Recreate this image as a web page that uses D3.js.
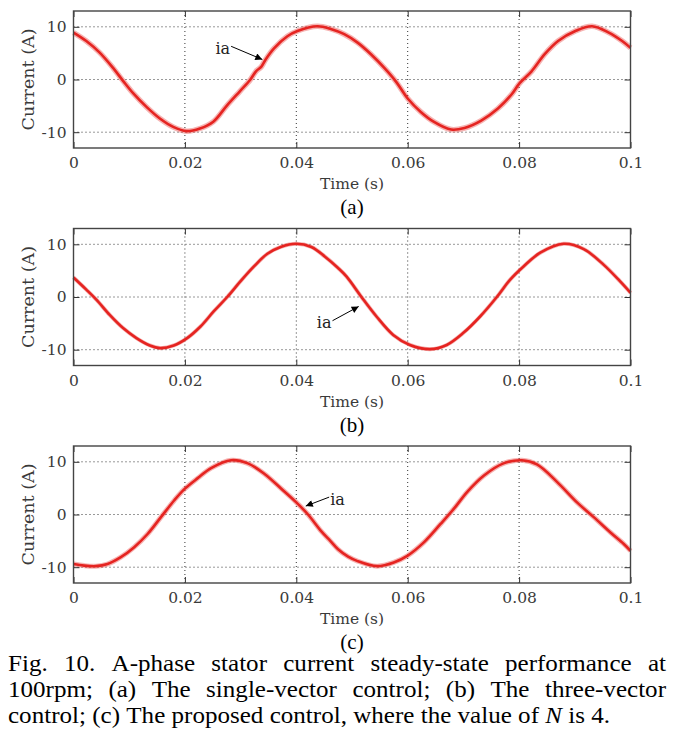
<!DOCTYPE html>
<html>
<head>
<meta charset="utf-8">
<script src="https://cdn.jsdelivr.net/npm/d3@7"></script>
<style>
  body { margin: 0; background: #fff; }
  svg { display: block; }
</style>
</head>
<body>
<svg id="fig" width="686" height="750"></svg>
<script>
// values (time in s, current in A)
const timeA = [0, 0.0023, 0.0047, 0.0071, 0.009, 0.0107, 0.0131, 0.0155, 0.0179, 0.0203, 0.0227, 0.0251,
  0.0275, 0.0299, 0.0317, 0.0328, 0.0337, 0.0345, 0.036, 0.0384, 0.0402, 0.0438, 0.0462, 0.0486, 0.051,
  0.0534, 0.0558, 0.0579, 0.06, 0.0624, 0.0648, 0.0678, 0.0702, 0.0732, 0.0762, 0.0786, 0.0801, 0.0822,
  0.0846, 0.087, 0.0901, 0.0931, 0.0961, 0.0985, 0.1];
const currentA = [8.9, 7.3, 5.1, 2.2, -0.4, -2.6, -5.2, -7.4, -9.0, -9.8, -9.3, -8.0,
  -5.0, -2.2, -0.1, 1.6, 2.4, 3.8, 5.9, 8.2, 9.2, 10.1, 9.6, 8.6, 7.0,
  4.8, 2.2, -0.4, -3.6, -6.2, -8.1, -9.5, -9.2, -7.8, -5.5, -2.9, -0.7, 1.5,
  4.8, 7.3, 9.2, 10.1, 8.9, 7.3, 6.0];

const timeB = [0, 0.0023, 0.0041, 0.0065, 0.0089, 0.0113, 0.0137, 0.0155, 0.018, 0.0204, 0.0228, 0.0252,
  0.0276, 0.03, 0.0324, 0.0348, 0.0372, 0.04, 0.0427, 0.0451, 0.0475, 0.049, 0.0517, 0.0544, 0.0574,
  0.0604, 0.064, 0.067, 0.07, 0.073, 0.076, 0.0784, 0.0808, 0.0838, 0.088, 0.0916, 0.0952, 0.0981, 0.1];
const currentB = [3.7, 1.4, -0.5, -3.4, -5.9, -7.8, -9.2, -9.7, -9.2, -7.8, -5.6, -2.7,
  0.0, 3.0, 5.8, 8.2, 9.5, 10.1, 9.5, 7.7, 5.5, 3.9, 0.0, -3.7, -7.2,
  -9.1, -9.9, -9.1, -6.8, -3.7, 0.0, 3.3, 5.8, 8.4, 10.1, 9.1, 6.1, 3.0, 0.8];

const timeC = [0, 0.0019, 0.004, 0.0061, 0.0085, 0.0109, 0.0133, 0.0157, 0.0181, 0.02, 0.0223, 0.0247,
  0.0283, 0.0313, 0.0343, 0.0373, 0.04, 0.0421, 0.0445, 0.0461, 0.0475, 0.0493, 0.0509, 0.0545, 0.0575,
  0.06, 0.0629, 0.0659, 0.0683, 0.0707, 0.0737, 0.0772, 0.0805, 0.0832, 0.0868, 0.0904, 0.0934, 0.0964,
  0.0988, 0.1];
const currentC = [-9.4, -9.7, -9.8, -9.4, -8.1, -6.2, -3.7, -0.5, 2.7, 4.9, 6.9, 8.8,
  10.3, 9.7, 7.7, 4.9, 2.3, 0.0, -3.2, -5.0, -6.6, -8.0, -8.8, -9.8, -9.1,
  -7.8, -5.3, -1.8, 1.1, 4.3, 7.4, 9.7, 10.3, 9.5, 6.2, 2.3, -0.5, -3.4,
  -5.6, -6.9];

const xTicks = [0, 0.02, 0.04, 0.06, 0.08, 0.1];
const yTicks = [-10, 0, 10];
const panelLabels = ['(a)', '(b)', '(c)'];
const xLabel = 'Time (s)';
const yLabel = 'Current (A)';
const traceName = 'ia';
const captionLines = [
  'Fig. 10. A-phase stator current steady-state performance at',
  '100rpm; (a) The single-vector control; (b) The three-vector',
  'control; (c) The proposed control, where the value of N is 4.'
];

const red = '#e52421';
const tickFont = '"DejaVu Serif", serif';
const textFont = '"Liberation Serif", "Times New Roman", serif';

const left = 73.5, plotW = 557, plotH = 137;
const tops = [11, 228.5, 446];
const fuzz = [5.5, 4, 5];   // width of the noisy band per panel

// arrow annotations: [tip t, tip i, tail t, tail i, text side]
const arrows = [
  [0.0339, 3.8, 0.0283, 6.3, 'end'],
  [0.0512, -1.8, 0.0465, -4.5, 'end'],
  [0.0417, 1.6, 0.0459, 3.3, 'start']
];

const svg = d3.select('#fig');

svg.append('defs').append('marker')
  .attr('id', 'head')
  .attr('viewBox', '0 0 10 10')
  .attr('refX', 10).attr('refY', 5)
  .attr('markerWidth', 9).attr('markerHeight', 7)
  .attr('markerUnits', 'userSpaceOnUse')
  .attr('orient', 'auto')
  .append('path').attr('d', 'M0,0 L10,5 L0,10 Z').attr('fill', '#000');

const x = d3.scaleLinear().domain([0, 0.1]).range([0, plotW]);
const y = d3.scaleLinear().domain([-13, 13]).range([plotH, 0]);

const series = [[timeA, currentA], [timeB, currentB], [timeC, currentC]];

series.forEach(([ts, vs], p) => {
  const g = svg.append('g').attr('transform', `translate(${left},${tops[p]})`);

  // dotted grid
  g.append('g').selectAll('line').data(xTicks.slice(1, -1)).join('line')
    .attr('x1', d => x(d)).attr('x2', d => x(d))
    .attr('y1', 0).attr('y2', plotH)
    .attr('stroke', '#333').attr('stroke-width', 1).attr('stroke-dasharray', '1,3');
  g.append('g').selectAll('line').data(yTicks).join('line')
    .attr('x1', 0).attr('x2', plotW)
    .attr('y1', d => y(d)).attr('y2', d => y(d))
    .attr('stroke', '#333').attr('stroke-width', 1).attr('stroke-dasharray', '1,3');

  // trace
  const pts = ts.map((t, i) => [t, vs[i]]);
  const line = d3.line().x(d => x(d[0])).y(d => y(d[1])).curve(d3.curveCatmullRom);
  g.append('path').datum(pts).attr('d', line)
    .attr('fill', 'none').attr('stroke', red).attr('stroke-opacity', 0.35)
    .attr('stroke-width', fuzz[p]).attr('stroke-linejoin', 'round');
  g.append('path').datum(pts).attr('d', line)
    .attr('fill', 'none').attr('stroke', red)
    .attr('stroke-width', 2.6).attr('stroke-linejoin', 'round');

  // axes with inward ticks on all four sides
  const xAx = g.append('g').attr('transform', `translate(0,${plotH})`)
    .call(d3.axisBottom(x).tickValues(xTicks).tickSizeInner(-6).tickSizeOuter(0)
      .tickPadding(9).tickFormat(d => String(d)));
  const xTop = g.append('g')
    .call(d3.axisTop(x).tickValues(xTicks).tickSizeInner(-6).tickSizeOuter(0).tickFormat(''));
  const yAx = g.append('g')
    .call(d3.axisLeft(y).tickValues(yTicks).tickSizeInner(-6).tickSizeOuter(0).tickPadding(7)
      .tickFormat(d => String(d)));
  const yRight = g.append('g').attr('transform', `translate(${plotW},0)`)
    .call(d3.axisRight(y).tickValues(yTicks).tickSizeInner(-6).tickSizeOuter(0).tickFormat(''));
  [xAx, xTop, yAx, yRight].forEach(a => {
    a.select('.domain').remove();
    a.selectAll('line').attr('stroke', '#333');
    a.selectAll('text').attr('font-family', tickFont).attr('font-size', 15.5)
      .attr('fill', '#3a3a3a');
  });

  g.append('rect').attr('width', plotW).attr('height', plotH)
    .attr('fill', 'none').attr('stroke', '#444').attr('stroke-width', 1.4);

  // annotation
  const [tt, tv, st, sv, side] = arrows[p];
  g.append('line')
    .attr('x1', x(st)).attr('y1', y(sv)).attr('x2', x(tt)).attr('y2', y(tv))
    .attr('stroke', '#000').attr('stroke-width', 1).attr('marker-end', 'url(#head)');
  g.append('text')
    .attr('x', x(st) + (side === 'end' ? -1 : 1)).attr('y', y(sv) + 2)
    .attr('dy', '0.35em').attr('text-anchor', side)
    .attr('font-family', tickFont).attr('font-size', 16).attr('fill', '#222')
    .text(traceName);

  // axis titles
  g.append('text')
    .attr('transform', `translate(${28 - left},${plotH / 2}) rotate(-90)`)
    .attr('text-anchor', 'middle').attr('dy', '0.35em')
    .attr('font-family', tickFont).attr('font-size', 17.5).attr('fill', '#3a3a3a')
    .text(yLabel);
  g.append('text')
    .attr('x', plotW / 2).attr('y', plotH + 36).attr('dy', '0.35em')
    .attr('text-anchor', 'middle')
    .attr('font-family', tickFont).attr('font-size', 15.5).attr('fill', '#3a3a3a')
    .text(xLabel);
  g.append('text')
    .attr('x', plotW / 2).attr('y', plotH + 59).attr('dy', '0.35em')
    .attr('text-anchor', 'middle')
    .attr('font-family', textFont).attr('font-size', 21).attr('fill', '#000')
    .text(panelLabels[p]);
});

// caption, justified word by word; glyphs slightly widened as in the print
const capLeft = 8, capWidth = 658, capSize = 23, capStretch = 1.09;
const baselines = [671, 697, 723];
captionLines.forEach((ln, i) => {
  const words = ln.split(' ');
  const cg = svg.append('g').attr('transform', `translate(${capLeft},0) scale(${capStretch},1)`);
  const nodes = words.map(w => cg.append('text')
    .attr('font-family', textFont).attr('font-size', capSize).attr('fill', '#000')
    .attr('font-style', w === 'N' ? 'italic' : 'normal')
    .attr('y', baselines[i]).text(w));
  const widths = nodes.map(n => n.node().getComputedTextLength());
  const total = d3.sum(widths);
  const last = i === captionLines.length - 1;
  const gap = last ? capSize * 0.25 : (capWidth / capStretch - total) / (words.length - 1);
  let cx = 0;
  nodes.forEach((n, k) => { n.attr('x', cx); cx += widths[k] + gap; });
});
</script>
</body>
</html>
